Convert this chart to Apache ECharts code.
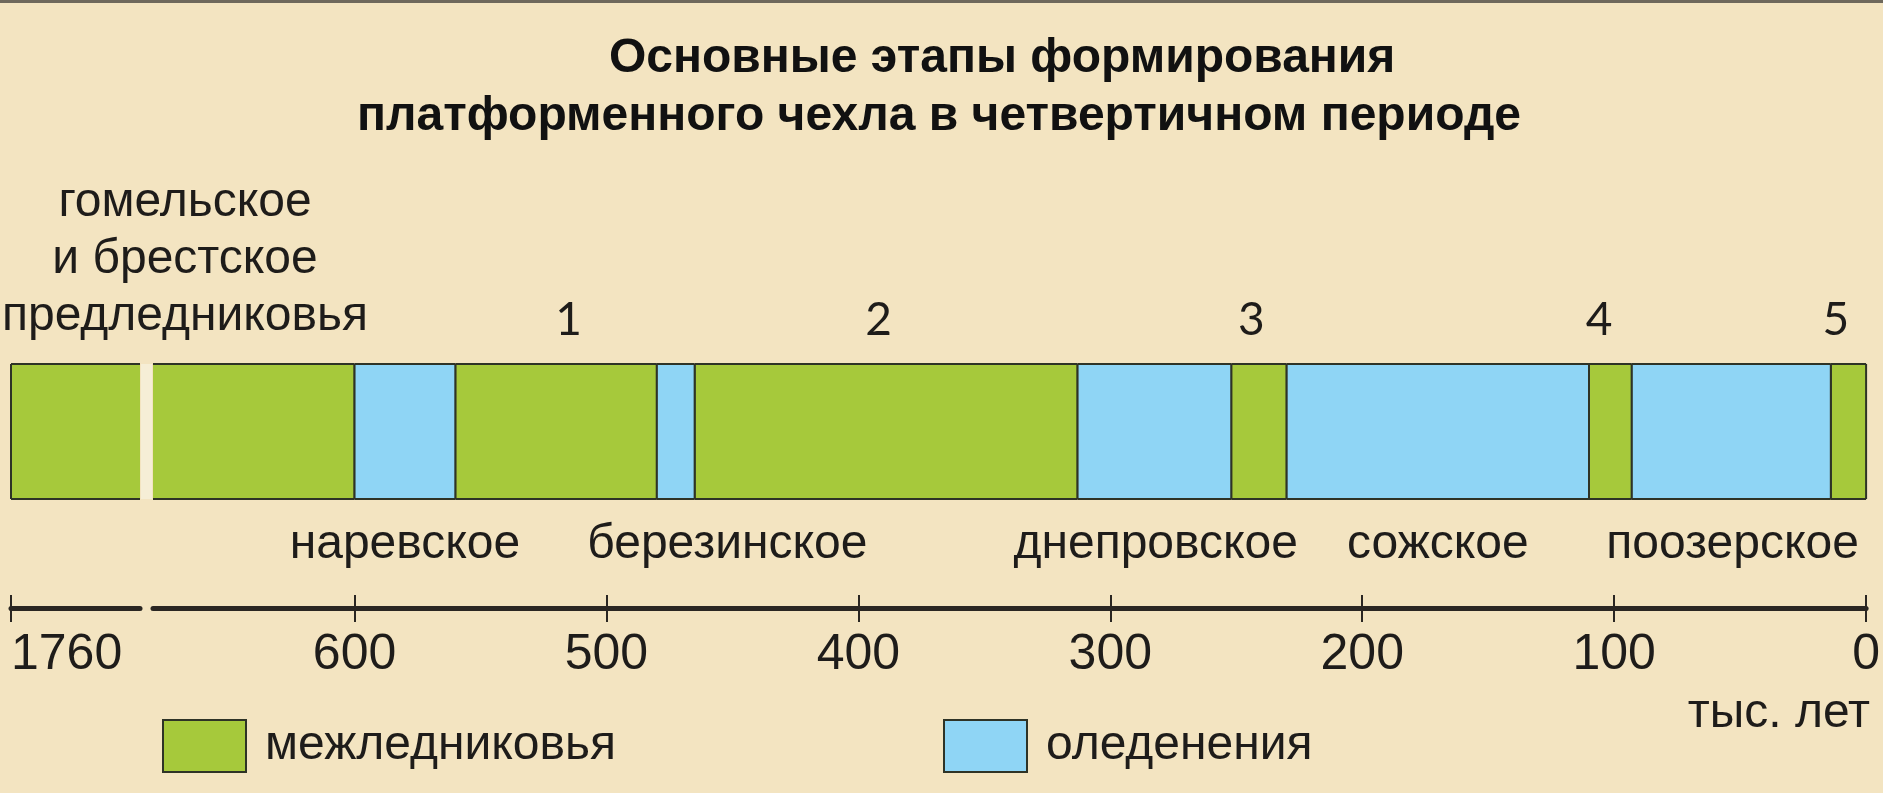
<!DOCTYPE html>
<html>
<head>
<meta charset="utf-8">
<title>Основные этапы формирования платформенного чехла</title>
<script src="https://cdn.jsdelivr.net/npm/echarts@6/dist/echarts.min.js"></script>
<style>
  html, body { margin: 0; padding: 0; background: #f3e4c1; }
  #chart { width: 1883px; height: 793px; }
</style>
</head>
<body>
<div id="chart"></div>
<script>
/* data, thousand years ago (start = older, end = younger) */
var interglacials = [[1760, 600], [560, 480], [465, 313], [252, 230], [110, 93], [14, 0]];
var glacials = [[600, 560], [480, 465], [313, 252], [230, 110], [93, 14]];
var glacialNames = ['наревское', 'березинское', 'днепровское', 'сожское', 'поозерское'];
var glacialLabelAt = [580, 452, 282, 170, 53];
var stageNumbers = ['1', '2', '3', '4', '5'];
var stageNumberAt = [515, 392, 244, 106, 12];
var tickValues = [600, 500, 400, 300, 200, 100, 0];
var oldestTick = [1760];
var firstLabel = 'гомельское\nи брестское\nпредледниковья';

var green = '#a6c93b';
var blue = '#8fd5f5';
var edge = '#2e3326';
var ink = '#1e1c1a';
var font = "'Liberation Sans', Arial, sans-serif";

var chart = echarts.init(document.getElementById('chart'));

// one block of the timeline, cut at the axis break
function renderStage(params, api) {
	var a = api.coord([api.value(0), 1]);
	var b = api.coord([api.value(1), 0]);
	var cs = params.coordSys;
	var left = Math.max(a[0], cs.x);
	var right = Math.min(b[0], cs.x + cs.width);
	if (right <= left) return;
	var top = a[1], bottom = b[1];
	var line = { stroke: edge, lineWidth: 2 };
	var kids = [
		{ type: 'rect', shape: { x: left, y: top, width: right - left, height: bottom - top }, style: { fill: api.visual('color') } },
		{ type: 'line', shape: { x1: left, y1: top, x2: right, y2: top }, style: line },
		{ type: 'line', shape: { x1: left, y1: bottom, x2: right, y2: bottom }, style: line }
	];
	if (a[0] >= cs.x - 0.5) kids.push({ type: 'line', shape: { x1: left, y1: top, x2: left, y2: bottom }, style: line });
	if (b[0] <= cs.x + cs.width + 0.5) kids.push({ type: 'line', shape: { x1: right, y1: top, x2: right, y2: bottom }, style: line });
	return { type: 'group', children: kids };
}

function textRenderer(texts, dy, size, family) {
	return function (params, api) {
		var p = api.coord([api.value(0), dy < 0 ? 1 : 0]);
		return {
			type: 'text', x: p[0], y: p[1] + dy,
			style: { text: texts[params.dataIndex], fontSize: size, fontFamily: family, fill: ink, align: 'center', verticalAlign: 'middle' }
		};
	};
}

function stageSeries(name, color, data, grid) {
	return {
		type: 'custom', name: name, xAxisIndex: grid, yAxisIndex: grid,
		itemStyle: { color: color },
		renderItem: renderStage,
		encode: { x: [0, 1] },
		data: data
	};
}

function mainAxis(grid, min, max, ticks, labelAlign) {
	return {
		type: 'value', gridIndex: grid, inverse: true, min: min, max: max,
		position: 'bottom', offset: 109,
		axisLine: { show: true, onZero: false, lineStyle: { color: '#2a2622', width: 5 } },
		axisTick: { show: true, customValues: ticks, length: 14, lineStyle: { color: '#2a2622', width: 2 } },
		axisLabel: {
			show: true, customValues: ticks, margin: 22, fontSize: 50, fontFamily: font, color: ink, align: labelAlign,
			formatter: function (v) { return String(v); }
		},
		splitLine: { show: false }
	};
}

function tickAxis(grid, min, max, ticks) {
	return {
		type: 'value', gridIndex: grid, inverse: true, min: min, max: max,
		position: 'bottom', offset: 109,
		axisLine: { show: false, onZero: false },
		axisTick: { show: true, inside: true, customValues: ticks, length: 13, lineStyle: { color: '#2a2622', width: 2 } },
		axisLabel: { show: false },
		splitLine: { show: false }
	};
}

var option = {
	backgroundColor: '#f3e4c1',
	animation: false,
	title: [
		{ text: 'Основные этапы формирования', left: 604, top: 30, textStyle: { fontSize: 48, fontWeight: 'bold', fontFamily: font, color: '#111' } },
		{ text: 'платформенного чехла в четвертичном периоде', left: 352, top: 88, textStyle: { fontSize: 48, fontWeight: 'bold', fontFamily: font, color: '#111' } }
	],
	legend: [
		{ data: ['межледниковья'], left: 157, top: 714, icon: 'rect', itemWidth: 83, itemHeight: 52,
			itemStyle: { borderColor: edge, borderWidth: 2 },
			textStyle: { fontSize: 48, fontFamily: font, color: ink, padding: [0, 0, 0, 14] } },
		{ data: ['оледенения'], left: 938, top: 714, icon: 'rect', itemWidth: 83, itemHeight: 52,
			itemStyle: { borderColor: edge, borderWidth: 2 },
			textStyle: { fontSize: 48, fontFamily: font, color: ink, padding: [0, 0, 0, 14] } }
	],
	grid: [
		{ left: 11, top: 364, width: 129, height: 135 },
		{ left: 153, top: 364, width: 1717, height: 135 }
	],
	xAxis: [
		mainAxis(0, 1709, 1760, oldestTick, 'left'),
		mainAxis(1, 0, 680, tickValues, 'center'),
		tickAxis(0, 1709, 1760, oldestTick),
		tickAxis(1, 0, 680, tickValues)
	],
	yAxis: [
		{ type: 'value', gridIndex: 0, min: 0, max: 1, show: false },
		{ type: 'value', gridIndex: 1, min: 0, max: 1, show: false }
	],
	graphic: [
		{ type: 'rect', shape: { x: 0, y: 0, width: 1883, height: 3 }, style: { fill: '#6e685c' } },
		{ type: 'rect', shape: { x: 141, y: 364, width: 11, height: 135 }, style: { fill: '#f6eed6' } },
		{ type: 'text', x: 185, y: 260, style: { text: firstLabel, fontSize: 48, fontFamily: font, fill: ink, align: 'center', verticalAlign: 'middle', lineHeight: 57 } },
		{ type: 'text', x: 1870, y: 714, style: { text: 'тыс. лет', fontSize: 48, fontFamily: font, fill: ink, align: 'right', verticalAlign: 'middle' } }
	],
	series: [
		stageSeries('межледниковья', green, interglacials, 0),
		stageSeries('межледниковья', green, interglacials, 1),
		stageSeries('оледенения', blue, glacials, 1),
		{
			type: 'custom', xAxisIndex: 1, yAxisIndex: 1,
			renderItem: textRenderer(glacialNames, 46, 48, font),
			data: glacialLabelAt
		},
		{
			type: 'custom', xAxisIndex: 1, yAxisIndex: 1,
			renderItem: textRenderer(stageNumbers, -44, 46, "Lato, 'Open Sans', sans-serif"),
			data: stageNumberAt
		}
	]
};

chart.setOption(option);
</script>
</body>
</html>
